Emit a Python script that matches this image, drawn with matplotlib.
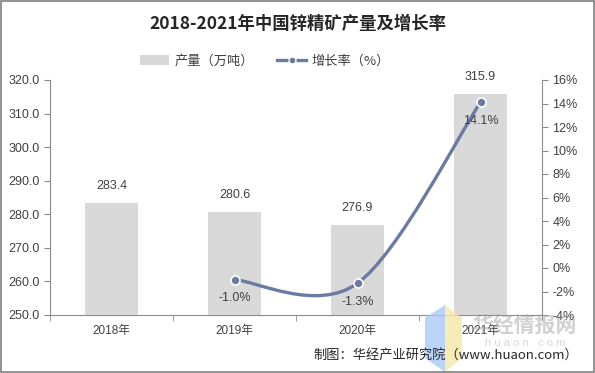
import matplotlib
matplotlib.use("Agg")
from matplotlib import pyplot as plt
from matplotlib.path import Path
from matplotlib.patches import PathPatch, Rectangle, Polygon

years = ["2018年", "2019年", "2020年", "2021年"]
output = [283.4, 280.6, 276.9, 315.9]
growth = [None, -1.0, -1.3, 14.1]

plt.rcParams["font.family"] = ["Liberation Sans", "Noto Sans CJK SC", "DejaVu Sans"]

BAR = "#d9d9d9"
LINE = "#6a7aa0"
TXT = "#404040"
AX = "#8c8c8c"


def fpt(px, py):
    # pixel position (from top-left) -> figure fraction
    return (px / 595, 1 - py / 373)


fig = plt.figure(figsize=(5.95, 3.73), dpi=100)
ax = fig.add_axes([50 / 595, 1 - 315 / 373, 492 / 595, 235 / 373])
ax2 = ax.twinx()

x = list(range(len(years)))
bars = ax.bar(x, output, width=0.43, color=BAR, zorder=1)
ax.set_ylim(250, 320)
ax.set_xlim(-0.5, 3.5)
ax.set_yticks([250 + 10 * i for i in range(8)])
ax.set_yticklabels([f"{250 + 10 * i:.1f}" for i in range(8)])
for xi, v in zip(x, output):
    ax.annotate(f"{v:.1f}", (xi, v), xytext=(0, 8), textcoords="offset points",
                ha="center", va="bottom", fontsize=9, color=TXT)

# smoothed line, excel style bezier through the points
pts = [(xi, g) for xi, g in zip(x, growth) if g is not None]
verts = [pts[0]]
codes = [Path.MOVETO]
for i in range(len(pts) - 1):
    p0 = pts[i - 1] if i > 0 else pts[i]
    p1 = pts[i]
    p2 = pts[i + 1]
    p3 = pts[i + 2] if i + 2 < len(pts) else pts[i + 1]
    c1 = (p1[0] + (p2[0] - p0[0]) / 6, p1[1] + (p2[1] - p0[1]) / 6)
    c2 = (p2[0] - (p3[0] - p1[0]) / 6, p2[1] - (p3[1] - p1[1]) / 6)
    verts += [c1, c2, p2]
    codes += [Path.CURVE4] * 3
ax2.add_patch(PathPatch(Path(verts, codes), facecolor="none", edgecolor=LINE,
                        lw=2.4, capstyle="round", zorder=3))
ax2.plot([p[0] for p in pts], [p[1] for p in pts], linestyle="none", marker="o",
         ms=6.5, mfc=LINE, mec="white", mew=1.2, zorder=4)
for px, py in pts:
    ax2.annotate(f"{py:.1f}%", (px, py), xytext=(0, -9), textcoords="offset points",
                 ha="center", va="top", fontsize=9, color=TXT, zorder=5)
ax2.set_ylim(-4, 16)
ax2.set_yticks(list(range(-4, 17, 2)))
ax2.set_yticklabels([f"{t}%" for t in range(-4, 17, 2)])

ax.set_xticks(x)
ax.set_xticklabels(years)
ax.set_xticks([-0.5, 0.5, 1.5, 2.5, 3.5], minor=True)
ax.tick_params(axis="x", which="major", length=0, pad=7, labelsize=8.5, labelcolor=TXT)
ax.tick_params(axis="x", which="minor", length=4, color=AX, direction="out")
ax.tick_params(axis="y", length=4, color=AX, labelsize=9, labelcolor=TXT)
ax2.tick_params(axis="y", length=4, color=AX, labelsize=9, labelcolor=TXT)
for a in (ax, ax2):
    for s in a.spines.values():
        s.set_visible(False)
for a, side in ((ax, "left"), (ax, "bottom"), (ax2, "right")):
    a.spines[side].set_visible(True)
    a.spines[side].set_color(AX)

line_handle = plt.Line2D([], [], color=LINE, lw=2.4, marker="o", ms=5, mfc=LINE, mec="white")
fig.legend([bars, line_handle], ["产量（万吨）", "增长率（%）"], loc="center",
           bbox_to_anchor=fpt(265, 61), ncol=2, frameon=False,
           handlelength=2.2, columnspacing=1.8, handletextpad=0.4,
           labelcolor=TXT, prop={"family": ["Noto Sans CJK SC"], "size": 9.5})

fig.text(0.5, fpt(0, 24)[1], "2018-2021年中国锌精矿产量及增长率", ha="center", va="center",
         fontsize=12.5, fontweight="bold", color="#262626", family=["Noto Sans CJK SC"])
fig.text(*fpt(578, 355), "制图：华经产业研究院（www.huaon.com）", ha="right",
         va="center", fontsize=9.5, color="#262626", family=["Noto Sans CJK SC"])

# watermark logo + text
fig.patches.append(Polygon([fpt(425, 318), fpt(445, 305), fpt(445, 372), fpt(425, 358)],
                           closed=True, transform=fig.transFigure, facecolor="#a9c8f5",
                           alpha=0.8, edgecolor="none", zorder=0))
fig.patches.append(Polygon([fpt(445, 305), fpt(462, 318), fpt(462, 358), fpt(445, 372)],
                           closed=True, transform=fig.transFigure, facecolor="#f6e7a6",
                           alpha=0.8, edgecolor="none", zorder=0))
fig.text(*fpt(525, 325), "华经情报网", ha="center", va="center", fontsize=15,
         fontweight="bold", color="#9a9a9a", alpha=0.45, family=["Noto Sans CJK SC"])
fig.text(*fpt(525, 343), "h u a o n . c o m", ha="center", va="center", fontsize=8,
         color="#b0b0b0", alpha=0.5)

# outer frame
fig.patches.append(Rectangle((0.002, 0.003), 0.996, 0.994, transform=fig.transFigure,
                             fill=False, edgecolor="#7f7f7f", lw=1.2))

fig.savefig("out.png", dpi=100)
